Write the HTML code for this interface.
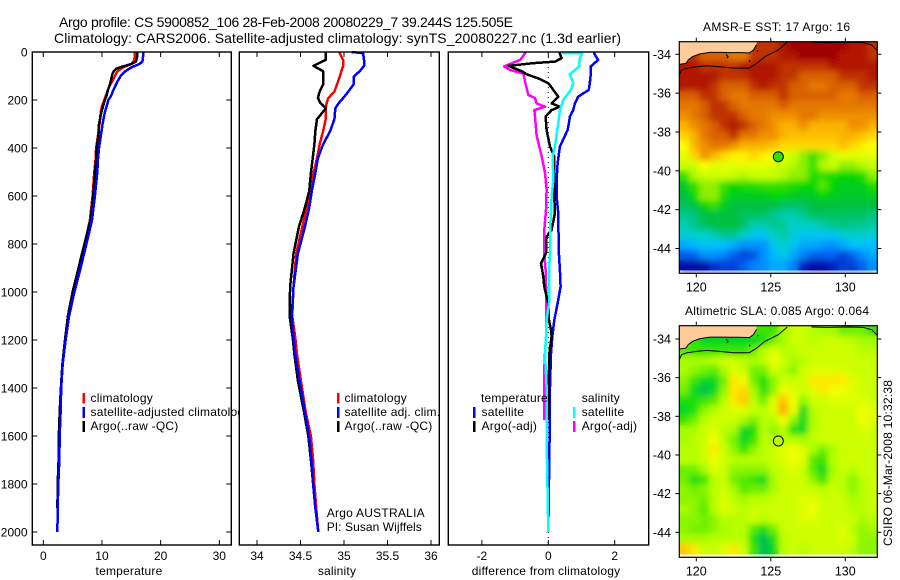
<!DOCTYPE html>
<html lang="en">
<head>
<meta charset="utf-8">
<title>Argo profile chart</title>
<style>
html,body{margin:0;padding:0;background:#fff;}
svg{display:block;font-family:"Liberation Sans",Arial,sans-serif;font-size:12px;fill:#000;}
text{fill:#000;}
</style>
</head>
<body>
<svg id="chart" xmlns="http://www.w3.org/2000/svg" width="900" height="580" viewBox="0 0 900 580">
<defs>
<clipPath id="legend-clip"><rect x="0" y="380" width="239.3" height="60"/></clipPath>
<clipPath id="map1-clip"><rect x="679.3" y="41.7" width="198" height="231.6"/></clipPath>
<clipPath id="map2-clip"><rect x="679.3" y="325.7" width="198" height="231.6"/></clipPath>
<filter id="soft" x="-5%" y="-5%" width="110%" height="110%"><feGaussianBlur stdDeviation="3.2"/></filter>
</defs>
<rect x="0" y="0" width="900" height="580" fill="#fff"/>
<text x="59" y="27" font-size="14" textLength="454" lengthAdjust="spacing">Argo profile: CS 5900852_106 28-Feb-2008 20080229_7 39.244S 125.505E</text>
<text x="54" y="43" font-size="14" textLength="567" lengthAdjust="spacing">Climatology: CARS2006. Satellite-adjusted climatology: synTS_20080227.nc (1.3d earlier)</text>
<g id="plots"></g>

<g>
<rect x="82.5" y="393" width="2.5" height="10.5" fill="#f00"/>
<rect x="82.5" y="407" width="2.5" height="11" fill="#00f"/>
<rect x="82.5" y="421" width="2.5" height="11" fill="#000"/>
<g clip-path="url(#legend-clip)">
<text x="90.5" y="402" letter-spacing=".22">climatology</text>
<text x="90.5" y="416" letter-spacing=".22">satellite-adjusted climatology</text>
<text x="90.5" y="430" letter-spacing=".22">Argo(..raw -QC)</text>
</g>
</g>

<g>
<rect x="337" y="393" width="2.5" height="10.5" fill="#f00"/>
<rect x="337" y="407" width="2.5" height="11" fill="#00f"/>
<rect x="337" y="421" width="2.5" height="11" fill="#000"/>
<text x="344.5" y="402" letter-spacing=".22">climatology</text>
<text x="344.5" y="416" letter-spacing=".22">satellite adj. clim.</text>
<text x="344.5" y="430" letter-spacing=".22">Argo(..raw -QC)</text>
<text x="326.7" y="517" textLength="98" lengthAdjust="spacing">Argo AUSTRALIA</text>
<text x="326.7" y="531" textLength="95" lengthAdjust="spacing">PI: Susan Wijffels</text>
</g>

<g>
<text x="481" y="402" letter-spacing=".2">temperature</text>
<text x="581.7" y="402" letter-spacing=".2">salinity</text>
<rect x="473" y="407" width="2.5" height="11" fill="#00f"/>
<rect x="473" y="421" width="2.5" height="11" fill="#000"/>
<rect x="573" y="407" width="2.5" height="11" fill="#0ff"/>
<rect x="573" y="421" width="2.5" height="11" fill="#f0f"/>
<text x="481.5" y="416" letter-spacing=".22">satellite</text>
<text x="481.5" y="430" letter-spacing=".22">Argo(-adj)</text>
<text x="581.7" y="416" letter-spacing=".22">satellite</text>
<text x="581.7" y="430" letter-spacing=".22">Argo(-adj)</text>
</g>

<text x="129" y="575" text-anchor="middle" letter-spacing=".2">temperature</text>
<text x="337" y="575" text-anchor="middle" letter-spacing=".2">salinity</text>
<text x="546" y="575" text-anchor="middle" letter-spacing=".2">difference from climatology</text>
<text x="776.5" y="31" text-anchor="middle" textLength="147" lengthAdjust="spacing">AMSR-E SST: 17 Argo: 16</text>
<text x="777" y="315" text-anchor="middle" textLength="184" lengthAdjust="spacing">Altimetric SLA: 0.085 Argo: 0.064</text>
<text transform="translate(892,463) rotate(-90)" text-anchor="middle" textLength="166" lengthAdjust="spacing">CSIRO 06-Mar-2008 10:32:38</text>
</svg>

<script>
// ---------- profile data ----------
const depthTicks = [0,200,400,600,800,1000,1200,1400,1600,1800,2000];
const tempTicks = [0,10,20,30];
const salTicks = [34,34.5,35,35.5,36];
const salTickLabels = ['34','34.5','35','35.5','36'];
const diffTicks = [-2,0,2];

const tempDepth = [0,20,40,50,60,70,80,90,100,120,140,160,180,200,225,250,275,300,350,400,450,500,600,700,800,900,1000,1100,1200,1300,1400,1500,1600,1700,1800,1900,2000];
const tempClim = [15.6,15.6,15.4,15,14,13.2,12.7,12.4,12.2,11.8,11.3,11,10.7,10.4,10,9.8,9.7,9.6,9.3,9,8.9,8.7,8.4,7.95,7.1,6.1,5.1,4.25,3.7,3.25,3,2.9,2.8,2.7,2.55,2.45,2.4];
const tempSat = [17,17,16.9,16.4,15.4,14.6,14,13.6,13.2,12.7,12.3,11.9,11.6,11.1,10.8,10.5,10.3,10.1,9.8,9.5,9.3,9.2,8.8,8.3,7.35,6.35,5.3,4.4,3.8,3.3,3.05,2.95,2.8,2.72,2.55,2.45,2.4];
const tempArgo = [16,16,15.8,15,13.6,12.4,12,11.8,11.7,11.5,11.3,11,10.8,10.5,10.2,9.9,9.7,9.5,9.4,9.1,9,8.8,8.5,8.05,7,6,5,4.2,3.7,3.25,3,2.8,2.65,2.6,2.45,2.4,null];

const salDepth = [0,5,33,58,80,103,135,165,192,213,235,280,330,385,443,505,580,650,730,840,980,1100,1190,1260,1370,1500,1600,1700,1800,1900,2000];
const salClim = [34.95,34.95,34.99,34.99,34.97,34.95,34.92,34.89,34.82,34.8,34.79,34.79,34.76,34.72,34.69,34.65,34.61,34.57,34.52,34.45,34.42,34.405,34.44,34.46,34.505,34.56,34.62,34.645,34.66,34.68,34.705];
const salSat = [35.09,35.22,35.23,35.23,35.18,35.11,35.11,35.05,34.99,34.94,34.9,34.89,34.84,34.76,34.7,34.67,34.63,34.6,34.55,34.47,34.42,34.4,34.42,34.44,34.49,34.55,34.6,34.625,34.645,34.67,34.705];
const salArgo = [34.79,34.79,34.79,34.65,34.76,34.76,34.76,34.72,34.7,34.73,34.79,34.69,34.67,34.66,34.64,34.62,34.6,34.55,34.48,34.42,34.38,34.375,34.41,34.43,34.47,34.54,34.59,34.62,34.645,34.67,null];

const diffTempSatDepth = [0,6,33,60,103,130,158,186,214,242,269,297,325,394,464,533,603,672,742,769,839,908,978,1047,1117,1186,1256,1394,1600,2000];
const diffTempSat = [1.38,1.38,1.5,1.28,1.27,1.25,1.22,.9,.8,.75,.65,.62,.58,.35,.28,.25,.25,.3,.3,.32,.32,.35,.37,.28,.18,.12,.08,.05,.04,0];
const diffSalSatDepth = [0,5,6,26,60,93,130,158,200,242,297,325,394,435,533,603,672,742,769,839,908,978,1047,1117,1186,1256,1394,1600,2000];
const diffSalSat = [.45,.45,1.02,.95,.93,.65,.75,.68,.45,.35,.3,.27,.2,.13,.15,.1,.08,.05,.05,.05,.02,.02,.02,-.05,-.07,-.1,-.05,-.05,0];
const diffTempArgoDepth = [0,6,26,40,47,58,80,93,110,130,158,186,214,228,242,269,292,325,394,435,533,603,672,742,769,839,880,936,978,1047,1117,1158,1186,1256,1325,1533];
const diffTempArgo = [.35,.35,.4,.2,-.5,-1.2,-.8,-.65,-.3,0,.15,.3,.1,.35,.1,-.08,-.07,-.05,.05,.18,.18,.18,.2,.1,-.05,-.07,-.22,-.15,-.12,0,.02,.08,.1,.03,.02,0];
const diffSalArgoDepth = [0,6,33,60,75,90,124,179,192,214,228,242,269,350,435,503,573,658,742,769,839,908,978,1117,1186,1256,1350,1533];
const diffSalArgo = [-.7,-.7,-.85,-1.33,-1.15,-.75,-.7,-.6,-.4,-.35,-.1,-.42,-.4,-.35,-.2,-.1,-.05,-.07,-.12,-.12,-.12,-.08,-.07,-.07,-.07,-.1,-.13,-.12];

// ---------- map data ----------
const sstGrid = [
[null,null,null,null,null,null,null,21,21,21,21.5,22,22,22,22,22,22,21.5,21.5,21],
[null,21,20.5,20.5,20.5,20,20,21,21,21,21.5,21.5,22,22,22,22,21.5,21.5,21.5,21],
[21.5,21.5,21,21,21,21,21.5,21.5,21.5,21.5,21,21,21,21,21,21.5,21.5,21.5,21.5,21.5],
[21.5,21.5,21.5,21.5,21,21,21,21.5,21.5,21.5,21,21,20.5,20.5,20.5,20.5,21,21,21,21.5],
[21.5,21.5,21.5,21,20.5,20.5,20.5,21,21.5,21,21,20.5,20.5,20,20,20.5,20.5,20.5,21,21],
[20.5,20.5,21,21,20.5,20,20,20.5,20.5,20.5,21,20.5,20.5,20.5,20.5,20.5,20,20,20.5,20.5],
[20,20,20.5,21,21,20.5,20,20,20,20,20.5,20,20,20,20,20,20,20,20,20],
[19.5,20,20.5,21,21,21,20.5,20,20,19.5,19.5,19.5,20,20,19.5,19.5,19.5,19.5,19.5,19.5],
[19,19.5,20,20.5,21,21.5,21,20.5,20,19.5,19,19,19.5,19,19,19,19,19.5,19.5,19],
[18.5,19,20,20.5,20.5,21,20,20,19.5,19.5,19,18.8,18.8,18.8,18.8,18.8,19,19,18.8,18.5],
[18,19,19.5,20,20,19.5,19,19,19,18.8,18.5,18.5,18.5,18.5,18.5,18.5,18.8,18.5,18.2,18],
[17.5,18.5,19.5,19,18.5,18.2,18.2,18.5,18.2,18,17.5,17,16.5,16,16.5,17,17.5,17.5,17.5,17.5],
[17,17,18,17.5,17.5,17.5,17.5,17.5,17.5,17.2,17,16.8,16.5,16,16.8,17,16.5,16.5,16.8,17],
[16,16.8,17,17,17.2,17,16.8,17,17,17,16.8,16.5,16.5,15.8,16,15.6,15.5,15.5,15.8,16.5],
[15.2,16,16.5,16.5,16,15.5,15.8,15.8,16,16,16,15.8,15.5,15.5,16.2,15.5,15.3,15.3,15.3,15.8],
[15,15.5,16.5,16.5,15.8,15.3,15.3,15.3,15.3,15.5,15.5,15.3,15.2,15.2,15.5,15.3,15.2,15.2,15.2,15.3],
[14.8,15,15.5,16,15.3,15,15,15,15,15,14.8,14.8,14.8,15,15,15,15,15,15,15],
[14.5,14.6,15,15,15,15,14.8,14.8,14.8,14.5,14.2,14.2,14.5,14.8,14.8,14.8,14.8,14.8,14.8,14.6],
[14.2,14.5,14.8,15,15,15,14.8,14.2,14.2,14.5,14.5,14,14,14,14.3,14.5,14.6,14.5,14.5,14.3],
[13.8,14,14,14.2,14.5,14.5,14,13.5,13.5,14,14.3,13.8,13.5,13.5,13.5,13.5,13.8,14,14,13.8],
[13,13.2,13.5,13.3,13.3,13,12.7,12.7,12.7,13.5,14,13.5,13,13,12.8,12.7,13,13.3,13.3,13.3],
[12,12,12.7,12.7,12.5,12,11.5,11.8,12.7,13.2,13.6,13,12.5,12,12,12,11.5,12,12.7,13],
[10.5,10.5,10.5,11.3,11.5,11.5,12,12.5,12.7,13,13,12.5,11,10.5,10.5,11,11.5,11.5,12,12.7]
];
const slaGrid = [
[null,null,null,null,null,null,null,-.2,-.2,-.2,0,.1,.1,.05,0,0,-.1,-.1,-.1,-.2],
[null,-.2,-.3,-.3,-.3,-.3,-.3,-.3,-.25,-.1,0,.1,.1,.05,.1,.1,.1,.05,0,0],
[-.15,-.2,-.2,-.2,-.2,-.2,-.2,-.1,.05,.15,.05,.05,.1,.1,.1,.1,.1,.1,.05,.05],
[0,0,0,.05,.1,.1,.05,0,.05,.2,.1,0,.05,.1,.1,.1,.1,.1,.1,.1],
[0,-.05,-.1,-.15,0,.15,.1,-.1,-.1,.1,.05,-.05,.1,.15,.15,.15,.15,.1,.1,.1],
[-.05,-.2,-.3,-.3,-.1,.25,.2,-.1,-.25,-.05,.1,.1,.1,.25,.25,.25,.25,.15,.1,.1],
[-.1,-.3,-.35,-.3,-.05,.25,.28,0,-.25,-.05,.2,.15,.1,.15,.25,.2,.2,.15,.1,.1],
[-.25,-.25,-.2,-.15,.05,.25,.3,.05,-.1,.15,.32,.2,-.05,.1,.1,.15,.15,.15,.15,.1],
[-.3,-.25,-.05,.05,.1,.15,.15,.1,.05,.15,.38,.2,-.3,.05,.1,.1,.1,.1,.2,.15],
[-.2,-.1,.05,.1,.1,.1,0,-.1,.05,.05,.2,-.05,-.3,0,.1,.1,.1,.1,.2,.15],
[0,0,.1,.15,.05,0,-.3,-.25,.05,-.05,.05,-.25,-.3,.05,.1,.1,.1,.1,.15,.1],
[0,.05,.1,.2,.05,-.1,-.3,-.2,.05,.05,.05,.05,0,.05,.1,.1,.1,.1,.1,.1],
[.05,.05,.1,.25,.1,-.05,-.2,-.05,.05,.1,.15,.2,.15,0,-.1,0,.1,.1,.1,.1],
[.05,.05,.1,.2,.1,.05,.05,.05,.05,.1,.15,.2,.15,-.15,-.2,.05,.1,.1,.1,.1],
[-.1,-.1,0,.15,.1,-.05,-.05,-.05,-.05,.05,.1,.15,.1,-.15,-.3,0,.1,.05,.1,.1],
[-.1,-.25,-.2,.05,.1,-.1,-.15,-.2,-.3,0,.1,.1,.1,-.05,-.2,.05,.05,-.05,.05,.1],
[-.05,-.1,-.05,.05,.1,0,-.15,-.1,-.1,0,.1,.1,.1,.1,.05,.1,.05,-.05,.05,.1],
[-.05,-.05,-.1,.05,.15,.05,0,.05,.05,.1,.1,.1,.15,.15,.1,.1,.1,0,.05,.1],
[0,-.05,-.15,.05,.15,.1,.05,.1,.1,.1,.1,.1,.15,.2,.1,.1,.1,.05,.05,.1],
[-.05,-.05,-.1,-.05,.05,.05,.05,.1,.05,.1,.1,.1,.15,.15,.1,.1,.1,.1,0,.05],
[-.05,-.1,-.1,-.05,0,.05,.05,-.15,-.25,-.1,.1,.1,.1,.1,.1,.1,.15,.05,-.05,0],
[0,0,0,.05,.05,.05,.05,-.25,-.35,-.25,.05,.1,.1,.1,.1,.1,.15,.1,-.05,-.05],
[.3,.25,.1,.1,.15,.25,.1,-.2,-.35,-.3,.05,.1,.05,.1,.1,.1,.1,.05,-.05,-.05]
];
const lonTicks = [120,125,130];
const latTicks = [-34,-36,-38,-40,-42,-44];
const landLon = [118.86,124.05,124.05,123.83,123.56,122.93,122.26,121.7,120.92,120.25,119.75,119.46,119.31,118.86];
const landLat = [-33.34,-33.34,-33.5,-33.78,-33.93,-33.91,-33.91,-33.9,-33.9,-33.98,-34.12,-34.29,-34.47,-34.52];
const shoreLon = [124.05,123.83,123.56,122.93,122.26,121.7,120.92,120.25,119.75,119.46,119.31,118.86];
const shoreLat = [-33.5,-33.78,-33.93,-33.91,-33.91,-33.9,-33.9,-33.98,-34.12,-34.29,-34.47,-34.52];
const shelfLon = [118.86,119.02,119.35,120.02,120.69,121.59,122.48,123.56,124.05,124.61,125.5,126.11];
const shelfLat = [-35.07,-34.81,-34.72,-34.64,-34.59,-34.64,-34.71,-34.71,-34.47,-34.12,-33.78,-33.38];
const shelfEastLon = [127.74,128.75,130.31,131.21,131.77,132.15];
const shelfEastLat = [-33.38,-33.4,-33.38,-33.4,-33.52,-33.81];
const islandLon = [122.0,122.1,122.05,122.15,123.6,123.55,124.15,124.1];
const islandLat = [-34.0,-34.1,-34.2,-34.1,-34.3,-34.38,-33.8,-33.85];
const floatLon = 125.505;
const floatLat = -39.244;
const argoSST = 16;
const argoSLA = 0.064;
const sstStops = [10,11,12,12.7,13.3,14,14.5,15,15.5,16,16.5,17,18,18.8,19.5,20.5,21,22];
const sstColors = ['#000090','#0020c0','#0060f0','#0090ff','#00c0ff','#00d0c8','#00c890','#00c040','#00d800','#30e000','#90f000','#c8ff00','#ffff00','#ffc000','#f09000','#d86000','#c03000','#a00000'];
const slaStops = [-.4,-.35,-.3,-.2,-.1,0,.05,.1,.2,.25,.3,.4];
const slaColors = ['#00b070','#00c050','#00d820','#38e400','#70f000','#a8fc00','#b8ff00','#ccff00','#f0ff00','#ffe800','#ffc800','#ffa000'];

// ---------- helpers ----------
const NS = 'http://www.w3.org/2000/svg';
const plots = document.getElementById('plots');
function make(tag, attrs, parent) {
  const el = document.createElementNS(NS, tag);
  for (const k in attrs) el.setAttribute(k, attrs[k]);
  (parent || plots).appendChild(el);
  return el;
}
function linear(d0, r0, d1, r1) { return v => r0 + (v - d0) * (r1 - r0) / (d1 - d0); }
const depthY = linear(0, 52, 2000, 532);
const tempX = linear(0, 43.3, 30, 219.3);
const salX = linear(34, 257, 36, 431);
const diffX = linear(0, 548.3, 2, 614.7);
function hex(c) { return [1, 3, 5].map(i => parseInt(c.substr(i, 2), 16)); }
function ramp(stops, colors, v) {
  if (v <= stops[0]) return colors[0];
  for (let i = 1; i < stops.length; i++) {
    if (v <= stops[i]) {
      const t = (v - stops[i - 1]) / (stops[i] - stops[i - 1]);
      const a = hex(colors[i - 1]), b = hex(colors[i]);
      return 'rgb(' + a.map((c, j) => Math.round(c + (b[j] - c) * t)).join(',') + ')';
    }
  }
  return colors[colors.length - 1];
}

// ---------- profile panels ----------
function profilePanel(name, left, right, xScale, xTicks, xLabels, series, opts) {
  const top = 52, bottom = 545;
  const g = make('g', {}, plots);
  
  
  if (opts.zero) {
    const z = make('line', {x1: xScale(0), x2: xScale(0), y1: top, y2: bottom, stroke: '#000', 'stroke-width': 1, 'stroke-dasharray': '1 4'}, g);
    
    
  }
  series.forEach(s => {
    const pts = [];
    s.values.forEach((v, i) => { if (v !== null) pts.push(xScale(v).toFixed(1) + ',' + depthY(s.depth[i]).toFixed(1)); });
    const line = make('polyline', {points: pts.join(' '), fill: 'none', stroke: s.color, 'stroke-width': 2.5, 'stroke-linejoin': 'round', 'shape-rendering': 'crispEdges'}, g);
    
    
  });
  const frame = make('rect', {x: left, y: top, width: right - left, height: bottom - top, fill: 'none', stroke: '#000', 'stroke-width': 1.4}, g);
  
  
  xTicks.forEach((t, i) => {
    const x = xScale(t);
    const tickTop = make('line', {x1: x, x2: x, y1: top, y2: top + 5, stroke: '#000', 'stroke-width': 1}, g);
    
    
    const tickBottom = make('line', {x1: x, x2: x, y1: bottom - 5, y2: bottom, stroke: '#000', 'stroke-width': 1}, g);
    
    
    const label = make('text', {x: x, y: 560, 'text-anchor': 'middle'}, g);
    label.textContent = xLabels[i];
    
    
  });
  if (opts.depthAxis) {
    depthTicks.forEach(d => {
      const y = depthY(d);
      const tl = make('line', {x1: left, x2: left + 5, y1: y, y2: y, stroke: '#000', 'stroke-width': 1}, g);
      
      
      const tr = make('line', {x1: right - 5, x2: right, y1: y, y2: y, stroke: '#000', 'stroke-width': 1}, g);
      
      
      const label = make('text', {x: 27.5, y: y + 4.5, 'text-anchor': 'end'}, g);
      label.textContent = d;
      
      
    });
  }
}
profilePanel('temperature', 32.3, 231.3, tempX, tempTicks, tempTicks.map(String), [
  {name: 'temperature-climatology-line', color: '#f00', depth: tempDepth, values: tempClim},
  {name: 'temperature-argo-line', color: '#000', depth: tempDepth, values: tempArgo},
  {name: 'temperature-satellite-line', color: '#00f', depth: tempDepth, values: tempSat}
], {depthAxis: true});
profilePanel('salinity', 239.3, 439.3, salX, salTicks, salTickLabels, [
  {name: 'salinity-climatology-line', color: '#f00', depth: salDepth, values: salClim},
  {name: 'salinity-argo-line', color: '#000', depth: salDepth, values: salArgo},
  {name: 'salinity-satellite-line', color: '#00f', depth: salDepth, values: salSat}
], {});
profilePanel('difference', 448.3, 648.7, diffX, diffTicks, diffTicks.map(String), [
  {name: 'difference-temperature-satellite-line', color: '#00f', depth: diffTempSatDepth, values: diffTempSat},
  {name: 'difference-salinity-argo-line', color: '#f0f', depth: diffSalArgoDepth, values: diffSalArgo},
  {name: 'difference-temperature-argo-line', color: '#000', depth: diffTempArgoDepth, values: diffTempArgo},
  {name: 'difference-salinity-satellite-line', color: '#0ff', depth: diffSalSatDepth, values: diffSalSat}
], {zero: true});

// ---------- maps ----------
const lonX = linear(120, 696.3, 130, 845.3);
const gridLon0 = 118.86, gridDLon = 0.6645, gridLat0 = -33.33, gridDLat = 0.512;
function mapPanel(name, top, bottom, y34, y44, clipId, grid, stops, colors, floatValue) {
  const latY = linear(-34, y34, -44, y44);
  const left = 679.3, right = 877.3;
  const g = make('g', {}, plots);
  
  
  const clipped = make('g', {'clip-path': 'url(#' + clipId + ')'}, g);
  
  
  [false, true].forEach(soft => {
    const layer = make('g', soft ? {filter: 'url(#soft)'} : {}, clipped);
    
    
    grid.forEach((row, r) => row.forEach((v, c) => {
      if (v === null) return;
      const x0 = lonX(gridLon0 + c * gridDLon), x1 = lonX(gridLon0 + (c + 1) * gridDLon);
      const y0 = latY(gridLat0 - r * gridDLat), y1 = latY(gridLat0 - (r + 1) * gridDLat);
      const cell = make('rect', {x: x0.toFixed(2), y: y0.toFixed(2), width: (x1 - x0 + .3).toFixed(2), height: (y1 - y0 + .3).toFixed(2), fill: ramp(stops, colors, v)}, layer);
      
      
    }));
  });
  const toPts = (lons, lats) => lons.map((lo, i) => lonX(lo).toFixed(1) + ',' + latY(lats[i]).toFixed(1)).join(' ');
  const land = make('polygon', {points: toPts(landLon, landLat), fill: '#ffcc99'}, clipped);
  
  
  const shore = make('polyline', {points: toPts(shoreLon, shoreLat), fill: 'none', stroke: '#000', 'stroke-width': 1}, clipped);
  
  
  const shelf = make('polyline', {points: toPts(shelfLon, shelfLat), fill: 'none', stroke: '#000', 'stroke-width': 1}, clipped);
  
  
  const shelfE = make('polyline', {points: toPts(shelfEastLon, shelfEastLat), fill: 'none', stroke: '#000', 'stroke-width': 1}, clipped);
  
  
  for (let i = 0; i + 1 < islandLon.length; i += 2) {
    const isle = make('line', {x1: lonX(islandLon[i]), y1: latY(islandLat[i]), x2: lonX(islandLon[i + 1]), y2: latY(islandLat[i + 1]), stroke: '#000', 'stroke-width': 1.2}, clipped);
    
    
  }
  const marker = make('circle', {cx: lonX(floatLon), cy: latY(floatLat) + .6, r: 5, fill: ramp(stops, colors, floatValue), stroke: '#000', 'stroke-width': 1}, g);
  
  
  const frame = make('rect', {x: left, y: top, width: right - left, height: bottom - top, fill: 'none', stroke: '#000', 'stroke-width': 1.2}, g);
  
  
  lonTicks.forEach(t => {
    const x = lonX(t);
    const a = make('line', {x1: x, x2: x, y1: top - 4, y2: top, stroke: '#000', 'stroke-width': 1}, g);
    
    
    const b = make('line', {x1: x, x2: x, y1: bottom, y2: bottom + 4, stroke: '#000', 'stroke-width': 1}, g);
    
    
    const label = make('text', {x: x, y: bottom + 18, 'text-anchor': 'middle', 'font-size': 12.5}, g);
    label.textContent = t;
    
    
  });
  latTicks.forEach(t => {
    const y = latY(t);
    const a = make('line', {x1: left - 4, x2: left, y1: y, y2: y, stroke: '#000', 'stroke-width': 1}, g);
    
    
    const b = make('line', {x1: right, x2: right + 4, y1: y, y2: y, stroke: '#000', 'stroke-width': 1}, g);
    
    
    const label = make('text', {x: 671, y: y + 4.5, 'text-anchor': 'end', 'font-size': 12.5}, g);
    label.textContent = t;
    
    
  });
}
mapPanel('sst', 41.7, 273.3, 54.3, 248.5, 'map1-clip', sstGrid, sstStops, sstColors, argoSST);
mapPanel('sla', 325.7, 557.3, 339, 532.3, 'map2-clip', slaGrid, slaStops, slaColors, argoSLA);
</script>
</body>
</html>
